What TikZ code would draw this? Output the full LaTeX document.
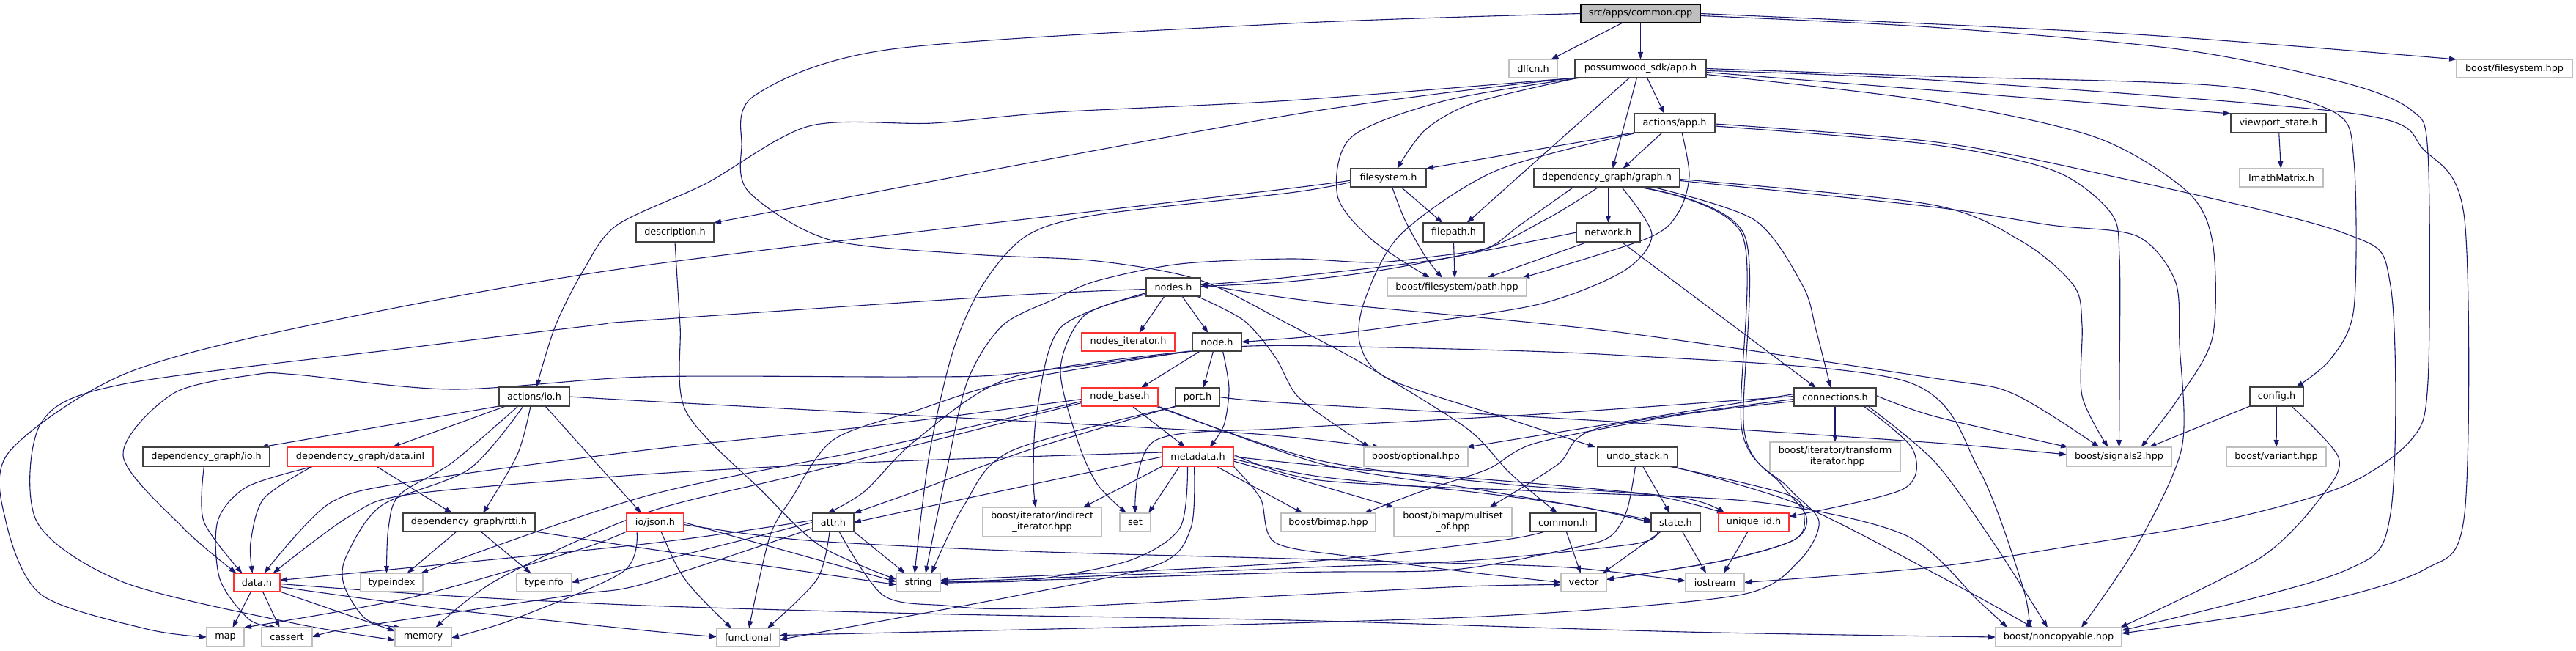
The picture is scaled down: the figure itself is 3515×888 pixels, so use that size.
\documentclass[tikz,border=0pt]{standalone}
\usepackage{fontspec}
\setmainfont{DejaVu Sans}
\usetikzlibrary{arrows.meta}
\definecolor{edgec}{HTML}{191970}
\definecolor{grayb}{HTML}{BFBFBF}
\definecolor{darkb}{HTML}{404040}
\definecolor{redb}{HTML}{FF3030}
\pgfdeclarelayer{bg}
\pgfsetlayers{bg,main}
\tikzset{
 box/.style={rectangle, inner sep=0pt, outer sep=0pt, fill=white, font=\fontsize{12.8}{15}\selectfont, align=center},
 bk/.style={box, draw=darkb, line width=1.5pt},
 rd/.style={box, draw=redb, line width=1.1pt},
 gy/.style={box, draw=grayb, line width=1.2pt},
 cur/.style={box, draw=black, line width=1.3pt, fill=grayb},
 edg/.style={draw=edgec, line width=1.1pt, -{Triangle[length=10pt,width=7pt]}},
}
\newcommand{\mynd}[7]{\node[#6, minimum width={(#3-#2)*1pt}, minimum height={(#5-#4)*1pt}] (#1) at ({(#2+#3)/2},{(#4+#5)/2}) {#7};}
\begin{document}
\begin{tikzpicture}[x=1pt,y=-1pt]
\path[use as bounding box] (0,0) rectangle (3515,888);
\mynd{ccpp}{2157}{2320}{6}{31}{cur}{src/apps/common.cpp}
\mynd{dlfcn}{2059}{2125}{81}{106}{gy}{dlfcn.h}
\mynd{sdkapp}{2149}{2328}{81}{106}{bk}{possumwood\_sdk/app.h}
\mynd{bfs}{3352}{3510}{81}{106}{gy}{boost/filesystem.hpp}
\mynd{actapp}{2230}{2340}{155}{181}{bk}{actions/app.h}
\mynd{vps}{3044}{3174}{155}{181}{bk}{viewport\_state.h}
\mynd{fsys}{1843}{1946}{230}{255}{bk}{filesystem.h}
\mynd{graph}{2093}{2292}{230}{255}{bk}{dependency\_graph/graph.h}
\mynd{imath}{3056}{3170}{230}{255}{gy}{ImathMatrix.h}
\mynd{descr}{868}{974}{304}{330}{bk}{description.h}
\mynd{fpath}{1942}{2025}{304}{330}{bk}{filepath.h}
\mynd{netw}{2151}{2238}{304}{330}{bk}{network.h}
\mynd{bpath}{1893}{2083}{379}{404}{gy}{boost/filesystem/path.hpp}
\mynd{nodesh}{1564}{1638}{379}{404}{bk}{nodes.h}
\mynd{nodesit}{1476}{1603}{454}{479}{rd}{nodes\_iterator.h}
\mynd{nodeh}{1627}{1694}{454}{479}{bk}{node.h}
\mynd{actio}{681}{777}{528}{554}{bk}{actions/io.h}
\mynd{nbase}{1476}{1580}{529}{554}{rd}{node\_base.h}
\mynd{porth}{1604}{1664}{529}{554}{bk}{port.h}
\mynd{conn}{2448}{2560}{529}{554}{bk}{connections.h}
\mynd{cfg}{3070}{3143}{528}{554}{bk}{config.h}
\mynd{dgio}{195}{368}{610}{636}{bk}{dependency\_graph/io.h}
\mynd{dinl}{392}{591}{610}{636}{rd}{dependency\_graph/data.inl}
\mynd{meta}{1586}{1683}{610}{636}{rd}{metadata.h}
\mynd{bopt}{1861}{2003}{610}{636}{gy}{boost/optional.hpp}
\mynd{undo}{2180}{2289}{610}{636}{bk}{undo\_stack.h}
\mynd{btrans}{2415}{2593}{603}{643}{gy}{boost/iterator/transform\\\_iterator.hpp}
\mynd{bsig}{2820}{2963}{610}{636}{gy}{boost/signals2.hpp}
\mynd{bvar}{3038}{3174}{610}{636}{gy}{boost/variant.hpp}
\mynd{rtti}{550}{730}{700}{725}{bk}{dependency\_graph/rtti.h}
\mynd{json}{855}{933}{700}{725}{rd}{io/json.h}
\mynd{attr}{1109}{1165}{700}{725}{bk}{attr.h}
\mynd{bind}{1341}{1503}{692}{732}{gy}{boost/iterator/indirect\\\_iterator.hpp}
\mynd{bset}{1528}{1570}{700}{725}{gy}{set}
\mynd{bimap}{1748}{1877}{700}{725}{gy}{boost/bimap.hpp}
\mynd{bmulti}{1902}{2063}{692}{732}{gy}{boost/bimap/multiset\\\_of.hpp}
\mynd{commonh}{2088}{2178}{700}{725}{bk}{common.h}
\mynd{state}{2253}{2320}{700}{725}{bk}{state.h}
\mynd{uid}{2345}{2441}{700}{725}{rd}{unique\_id.h}
\mynd{datah}{319}{382}{782}{807}{rd}{data.h}
\mynd{tidx}{492}{577}{782}{807}{gy}{typeindex}
\mynd{tinfo}{705}{780}{782}{807}{gy}{typeinfo}
\mynd{str}{1223}{1283}{782}{807}{gy}{string}
\mynd{vec}{2130}{2192}{782}{807}{gy}{vector}
\mynd{iostr}{2300}{2380}{782}{807}{gy}{iostream}
\mynd{smap}{282}{333}{856}{882}{gy}{map}
\mynd{cass}{357}{426}{856}{882}{gy}{cassert}
\mynd{mem}{539}{616}{856}{882}{gy}{memory}
\mynd{func}{978}{1064}{857}{882}{gy}{functional}
\mynd{noncp}{2723}{2895}{856}{882}{gy}{boost/noncopyable.hpp}
\begin{pgfonlayer}{bg}
% common.cpp
\draw[edg] (ccpp) -- (dlfcn);
\draw[edg] (ccpp) -- (sdkapp);
\draw[edg] plot[smooth] coordinates {(ccpp.east) (2900,46) (bfs.north west)};
\draw[edg] plot[smooth] coordinates {(ccpp.west) (1760,32) (1217,67) (1030,130) (1012,200) (1022,262) (1132,327) (1329,347) (1497,356) (1637,382) (1760,443) (1861,497) (2001,584) (2060,645) ([xshift=-8pt]commonh.north)};
\draw[edg] plot[smooth] coordinates {([yshift=-3pt]ccpp.east) (2635,37) (2972,67) (3196,112) (3290,150) (3313,210) (3313,520) (3290,600) (3196,664) (3028,711) (2831,744) (2635,774) (iostr.east)};
% possumwood_sdk/app.h
\draw[edg] ([xshift=9pt]sdkapp.south) -- ([xshift=-14pt]actapp.north);
\draw[edg] ([xshift=-5pt]sdkapp.south) -- ([xshift=8pt]graph.north);
\draw[edg] ([xshift=-15pt]sdkapp.south) -- ([xshift=18pt]fpath.north);
\draw[edg] plot[smooth] coordinates {([xshift=5pt]sdkapp.south west) (2012,140) (1945,177) ([xshift=12pt]fsys.north)};
\draw[edg] plot[smooth] coordinates {([xshift=8pt]sdkapp.south west) (1973,137) (1844,187) (1825,267) (1872,327) ([xshift=-37pt]bpath.north)};
\draw[edg] plot[smooth] coordinates {(sdkapp.east) (2635,104) (3028,117) (3185,153) (3212,220) (3212,420) (3180,490) ([xshift=-10pt]cfg.north east)};
\draw[edg] plot[smooth] coordinates {([yshift=-3pt]sdkapp.east) (2635,109) (3213,155) (3308,205) (3363,300) (3363,700) (3308,777) (3140,827) ([yshift=-8pt]noncp.north east)};
\draw[edg] plot[smooth] coordinates {([yshift=-5pt]sdkapp.east) (2700,128) (vps.north west)};
\draw[edg] plot[smooth] coordinates {([yshift=-8pt]sdkapp.east) (2635,138) (2859,187) (2983,260) (3019,330) (3019,460) (2972,544) ([xshift=30pt]bsig.north)};
\draw[edg] plot[smooth] coordinates {([xshift=3pt]sdkapp.south west) (1760,137) (1441,153) (1273,168) (1104,172) (964,250) (842,307) (797,367) (758,444) ([xshift=3pt]actio.north)};
\draw[edg] plot[smooth] coordinates {([xshift=2pt]sdkapp.south west) (1760,157) (descr.north east)};
% actions/app.h
\draw[edg] (actapp.south west) -- (fsys.north east);
\draw[edg] ([xshift=-17pt]actapp.south) -- ([xshift=22pt]graph.north);
\draw[edg] plot[smooth] coordinates {([xshift=10pt]actapp.south) (2305,240) (2290,290) (2248,325) ([xshift=89pt]bpath.north)};
\draw[edg] plot[smooth] coordinates {([yshift=-1pt]actapp.south west) (2041,233) (1911,320) (1862,410) (1856,470) (1895,517) (2060,572) ([xshift=-3pt]undo.north west)};
\draw[edg] plot[smooth] coordinates {([yshift=-4pt]actapp.east) (2635,197) (2803,233) (2880,290) (2892,350) (2892,520) (bsig.north)};
\draw[edg] plot[smooth] coordinates {([yshift=-1pt]actapp.east) (2635,193) (2848,233) (3196,317) (3262,390) (3262,700) (3196,780) ([yshift=-4pt]noncp.north east)};
% filesystem.h
\draw[edg] ([xshift=17pt]fsys.south) -- ([xshift=-15pt]fpath.north);
\draw[edg] plot[smooth] coordinates {([xshift=5pt]fsys.south) (1917,300) (1945,350) ([xshift=-20pt]bpath.north)};
\draw[edg] plot[smooth] coordinates {([yshift=-2pt]fsys.west) (1760,257) (880,362) (421,444) (168,511) (12,617) (8,711) (56,811) (200,858) (smap.west)};
\draw[edg] plot[smooth] coordinates {([yshift=-6pt]fsys.west) (1760,263) (1497,293) (1400,322) (1340,390) (1300,480) (1268,620) ([xshift=-5pt]str.north)};
\draw[edg] (fpath.south) -- ([xshift=-3pt]bpath.north);
\draw[edg] (vps) -- (imath);
\draw[edg] plot[smooth] coordinates {(descr.south) (928,444) (936,561) (1040,670) (1120,745) ([yshift=4pt]str.west)};
% graph.h
\draw[edg] ([xshift=2pt]graph.south) -- (netw.north);
\draw[edg] plot[smooth] coordinates {([xshift=-11pt]graph.south) (2108,300) (2001,347) (1760,378) ([yshift=3pt]nodesh.east)};
\draw[edg] plot[smooth] coordinates {(netw.west) (1900,366) (1760,384) ([yshift=1pt]nodesh.east)};
\draw[edg] plot[smooth] coordinates {([xshift=20pt]graph.south) (2254,320) (2215,370) (2100,415) (1912,444) (1800,458) (nodeh.east)};
\draw[edg] plot[smooth] coordinates {([xshift=62pt]graph.south) (2394,300) (2460,390) (2478,450) ([xshift=-6pt]conn.north)};
\draw[edg] ([xshift=18pt]netw.south) -- ([xshift=-26pt]conn.north);
\draw[edg] ([xshift=-28pt]netw.south) -- ([xshift=41pt]bpath.north);
\draw[edg] plot[smooth] coordinates {([yshift=-2pt]graph.east) (2635,279) (2760,330) (2830,390) (2841,444) (2841,540) ([xshift=-15pt]bsig.north)};
\draw[edg] plot[smooth] coordinates {([yshift=-4pt]graph.east) (2635,282) (2798,307) (2916,322) (2968,383) (2974,470) (2977,611) (2916,744) ([xshift=-55pt]noncp.north east)};
\draw[edg] plot[smooth] coordinates {([xshift=42pt]graph.south) (2377,320) (2377,588) (2440,665) (2482,711) (2455,765) (2377,811) (2097,837) (1760,850) ([yshift=3pt]func.east)};
\draw[edg] plot[smooth] coordinates {([xshift=44pt]graph.south) (2380,320) (2380,588) (2430,660) (2465,705) (2447,737) (2350,765) ([yshift=4pt]vec.east)};
\draw[edg] plot[smooth] coordinates {([xshift=-45pt]graph.south) (2074,307) (2030,338) (1956,350) (1872,358) (1760,353) (1610,360) (1497,383) (1441,407) (1368,444) (1320,520) (1290,650) ([xshift=10pt]str.north)};
% nodes.h
\draw[edg] ([xshift=-12pt]nodesh.south) -- ([xshift=15pt]nodesit.north);
\draw[edg] ([xshift=12pt]nodesh.south) -- ([xshift=-12pt]nodeh.north);
\draw[edg] plot[smooth] coordinates {([yshift=-3pt]nodesh.west) (1380,403) (880,437) (808,444) (561,474) (168,524) (56,577) (50,711) (168,794) (400,850) ([yshift=-4pt]mem.west)};
\draw[edg] plot[smooth] coordinates {([yshift=-10pt]nodesh.west) (1480,430) (1447,503) (1470,600) (1497,660) ([xshift=-12pt]bset.north)};
\draw[edg] plot[smooth] coordinates {([yshift=-8pt]nodesh.west) (1447,447) (1415,560) (1410,650) ([xshift=-9pt]bind.north)};
\draw[edg] plot[smooth] coordinates {([xshift=-5pt]nodesh.south east) (1697,437) (1740,487) (1770,540) (1830,585) ([xshift=-63pt]bopt.north)};
\draw[edg] plot[smooth] coordinates {([yshift=4pt]nodesh.east) (1800,412) (2200,452) (2640,516) (2747,537) ([xshift=-27pt]bsig.north)};
% node.h
\draw[edg] ([xshift=-23pt]nodeh.south) -- ([xshift=29pt]nbase.north);
\draw[edg] ([xshift=-5pt]nodeh.south) -- ([xshift=8pt]porth.north);
\draw[edg] plot[smooth] coordinates {([xshift=8pt]nodeh.south) (1677,530) (1670,580) ([xshift=16pt]meta.north)};
\draw[edg] plot[smooth] coordinates {(nodeh.south west) (1380,510) (1245,514) (880,514) (617,531) (404,511) (348,511) (236,537) (168,621) (250,720) ([xshift=-28pt]datah.north)};
\draw[edg] plot[smooth] coordinates {([xshift=-2pt]nodeh.south west) (1380,515) (1250,600) (1180,670) ([xshift=-8pt]attr.north)};
\draw[edg] plot[smooth] coordinates {([xshift=-4pt]nodeh.south west) (1380,520) (1250,560) (1137,600) (1080,680) (1050,733) ([xshift=1pt]func.north)};
\draw[edg] plot[smooth] coordinates {([yshift=-6pt]nodeh.east) (1800,472) (2200,484) (2600,520) (2700,640) (2760,800) ([xshift=-40pt]noncp.north)};
% node_base.h
\draw[edg] ([xshift=17pt]nbase.south) -- ([xshift=-17pt]meta.north);
\draw[edg] plot[smooth] coordinates {([yshift=-3pt]nbase.west) (1200,580) (880,614) (561,657) (449,687) ([xshift=10pt]datah.north)};
\draw[edg] plot[smooth] coordinates {([yshift=-6pt]nbase.west) (1200,610) (880,677) ([xshift=-3pt]tidx.north east)};
\draw[edg] plot[smooth] coordinates {(nbase.south east) (1800,632) (2000,665) (2150,690) ([yshift=3pt]state.west)};
\draw[edg] plot[smooth] coordinates {([xshift=-3pt]nbase.south east) (1800,628) (2050,660) (2250,675) ([xshift=8pt]uid.north west)};
\draw[edg] plot[smooth] coordinates {([yshift=-8pt]nbase.west) (1100,645) (880,700) (680,790) ([xshift=17pt]mem.north)};
% port.h
\draw[edg] plot[smooth] coordinates {(porth.south west) (1400,615) (1250,670) (attr.north east)};
\draw[edg] plot[smooth] coordinates {([xshift=3pt]porth.south west) (1380,615) (1315,690) ([xshift=18pt]str.north)};
\draw[edg] plot[smooth] coordinates {(porth.east) (1760,550) (2200,575) (2640,604) ([yshift=3pt]bsig.west)};
% metadata.h
\draw[edg] (meta.west) -- (attr.east);
\draw[edg] plot[smooth] coordinates {([yshift=6pt]meta.west) (1200,630) (880,647) (561,674) (477,704) ([xshift=22pt]datah.north)};
\draw[edg] (meta.south west) -- ([xshift=56pt]bind.north);
\draw[edg] ([xshift=-25pt]meta.south) -- ([xshift=18pt]bset.north);
\draw[edg] plot[smooth] coordinates {([xshift=-14pt]meta.south) (1610,720) (1540,765) (1400,792) ([yshift=2pt]str.east)};
\draw[edg] plot[smooth] coordinates {([xshift=-5pt]meta.south) (1625,720) (1580,770) (1385,813) ([yshift=-3pt]func.east)};
\draw[edg] ([xshift=25pt]meta.south) -- ([xshift=-35pt]bimap.north);
\draw[edg] plot[smooth] coordinates {([yshift=-6pt]meta.east) (1800,662) (bmulti.north west)};
\draw[edg] plot[smooth] coordinates {([yshift=-3pt]meta.east) (1800,650) (2000,670) (2150,690) (state.west)};
\draw[edg] plot[smooth] coordinates {(meta.east) (1850,640) (2100,660) (2300,680) ([xshift=8pt]uid.north west)};
\draw[edg] plot[smooth] coordinates {(meta.south east) (1720,680) (1740,740) (1850,760) (2000,780) (vec.west)};
\draw[edg] plot[smooth] coordinates {([yshift=3pt]meta.east) (1800,655) (2100,670) (2400,685) (2600,730) (2700,820) ([xshift=-70pt]noncp.north)};
% attr.h
\draw[edg] plot[smooth] coordinates {([yshift=3pt]attr.west) (880,742) ([yshift=3pt]datah.east)};
\draw[edg] plot[smooth] coordinates {(attr.west) (900,765) (tinfo.east)};
\draw[edg] (attr.south east) -- ([xshift=-18pt]str.north);
\draw[edg] plot[smooth] coordinates {([xshift=-5pt]attr.south) (1115,790) ([xshift=26pt]func.north)};
\draw[edg] plot[smooth] coordinates {([yshift=-8pt]attr.west) (880,796) (786,811) (561,844) (460,860) (cass.east)};
\draw[edg] plot[smooth] coordinates {([xshift=8pt]attr.south) (1205,812) (1290,826) (1400,830) (1760,812) (2000,800) ([yshift=-3pt]vec.west)};
% actions/io.h
\draw[edg] (actio.south west) -- ([xshift=-12pt]dgio.north east);
\draw[edg] ([xshift=-39pt]actio.south) -- ([xshift=44pt]dinl.north);
\draw[edg] plot[smooth] coordinates {([xshift=-5pt]actio.south) (706,620) ([xshift=19pt]rtti.north)};
\draw[edg] ([xshift=15pt]actio.south) -- ([xshift=-19pt]json.north);
\draw[edg] plot[smooth] coordinates {([xshift=-22pt]actio.south) (617,631) (545,675) (530,720) ([xshift=-7pt]tidx.north)};
\draw[edg] plot[smooth] coordinates {([xshift=-15pt]actio.south) (640,640) (520,690) (472,760) (470,800) (500,845) ([xshift=8pt]mem.north west)};
\draw[edg] plot[smooth] coordinates {(actio.east) (880,547) (1273,568) (1650,588) (1760,596) ([xshift=-49pt]bopt.north)};
% dependency_graph io/data/rtti
\draw[edg] plot[smooth] coordinates {([xshift=-3pt]dgio.south) (278,711) ([xshift=-20pt]datah.north)};
\draw[edg] plot[smooth] coordinates {([xshift=-65pt]dinl.south) (360,680) (342,740) ([xshift=-6pt]datah.north)};
\draw[edg] plot[smooth] coordinates {([xshift=-63pt]dinl.south) (337,664) (297,711) (300,790) (340,845) ([xshift=-14pt]cass.north)};
\draw[edg] ([xshift=22pt]dinl.south) -- ([xshift=-23pt]rtti.north);
\draw[edg] ([xshift=-17pt]rtti.south) -- ([xshift=21pt]tidx.north);
\draw[edg] ([xshift=16pt]rtti.south) -- ([xshift=-18pt]tinfo.north);
\draw[edg] plot[smooth] coordinates {(rtti.south east) (880,748) ([yshift=-3pt]str.west)};
% io/json.h
\draw[edg] plot[smooth] coordinates {(json.south west) (786,751) (561,815) (smap.north east)};
\draw[edg] (json.east) -- ([yshift=1pt]str.west);
\draw[edg] ([xshift=8pt]json.south) .. controls (930,790) .. ([xshift=-23pt]func.north);
\draw[edg] plot[smooth] coordinates {([xshift=-25pt]json.south) (850,780) (700,845) ([yshift=-1pt]mem.east)};
\draw[edg] plot[smooth] coordinates {([yshift=-3pt]json.east) (1100,737) (1400,752) (1760,762) (2100,772) (2200,780) ([yshift=2pt]iostr.west)};
% data.h
\draw[edg] ([xshift=-8pt]datah.south) -- ([xshift=10pt]smap.north);
\draw[edg] ([xshift=8pt]datah.south) -- ([xshift=-10pt]cass.north);
\draw[edg] (datah.south east) -- ([yshift=-5pt]mem.north west);
\draw[edg] plot[smooth] coordinates {([yshift=-6pt]datah.east) (600,830) (880,860) ([yshift=1pt]func.west)};
\draw[edg] plot[smooth] coordinates {([yshift=-2pt]datah.east) (600,812) (880,826) (1300,838) (1760,846) (2300,862) (noncp.west)};
% connections.h
\draw[edg] (conn.south) -- (btrans.north);
\draw[edg] plot[smooth] coordinates {([yshift=-6pt]conn.west) (2293,566) (2097,604) (2030,640) (1940,670) ([xshift=49pt]bimap.north)};
\draw[edg] plot[smooth] coordinates {([yshift=-3pt]conn.west) (2181,584) (2125,634) ([xshift=50pt]bmulti.north)};
\draw[edg] ([yshift=4pt]conn.west) -- ([xshift=-2pt]bopt.north east);
\draw[edg] plot[smooth] coordinates {([xshift=39pt]conn.south) (2610,613) (2597,667) ([yshift=8pt]uid.east)};
\draw[edg] plot[smooth] coordinates {([yshift=2pt]conn.east) (2640,568) ([xshift=2pt]bsig.north west)};
\draw[edg] plot[smooth] coordinates {([xshift=45pt]conn.south) (2640,630) (2720,740) ([xshift=-15pt]noncp.north)};
\draw[edg] plot[smooth] coordinates {([yshift=1pt]conn.west) (2100,565) (1760,584) (1576,601) (bset.north)};
% undo_stack.h
\draw[edg] ([xshift=7pt]undo.south) -- ([xshift=-8pt]state.north);
\draw[edg] plot[smooth] coordinates {([xshift=-12pt]undo.south east) (2440,675) (2462,708) (2447,737) (2350,765) ([yshift=4pt]vec.east)};
\draw[edg] plot[smooth] coordinates {([xshift=-3pt]undo.south) (2220,696) (2198,731) (2153,746) (1984,777) (1760,781) ([yshift=-1pt]str.east)};
\draw[edg] plot[smooth] coordinates {([xshift=-8pt]undo.south east) (2457,689) (2660,793) ([xshift=-35pt]noncp.north)};
% common.h, state.h, unique_id.h
\draw[edg] (commonh) -- (vec);
\draw[edg] plot[smooth] coordinates {([xshift=-25pt]commonh.south) (2040,738) (1760,768) ([yshift=3pt]str.east)};
\draw[edg] ([xshift=-20pt]state.south) -- ([xshift=26pt]vec.north);
\draw[edg] ([xshift=9pt]state.south) -- ([xshift=-12pt]iostr.north);
\draw[edg] plot[smooth] coordinates {([xshift=-25pt]state.south) (2230,742) (2000,765) (1760,775) (str.east)};
\draw[edg] ([xshift=-8pt]uid.south) -- ([xshift=12pt]iostr.north);
% config.h
\draw[edg] (cfg.south west) -- ([xshift=41pt]bsig.north);
\draw[edg] (cfg) -- (bvar);
\draw[edg] plot[smooth] coordinates {([xshift=20pt]cfg.south) (3191,624) (3168,677) (3084,761) ([xshift=-2pt]noncp.north east)};
\end{pgfonlayer}
\end{tikzpicture}
\end{document}
